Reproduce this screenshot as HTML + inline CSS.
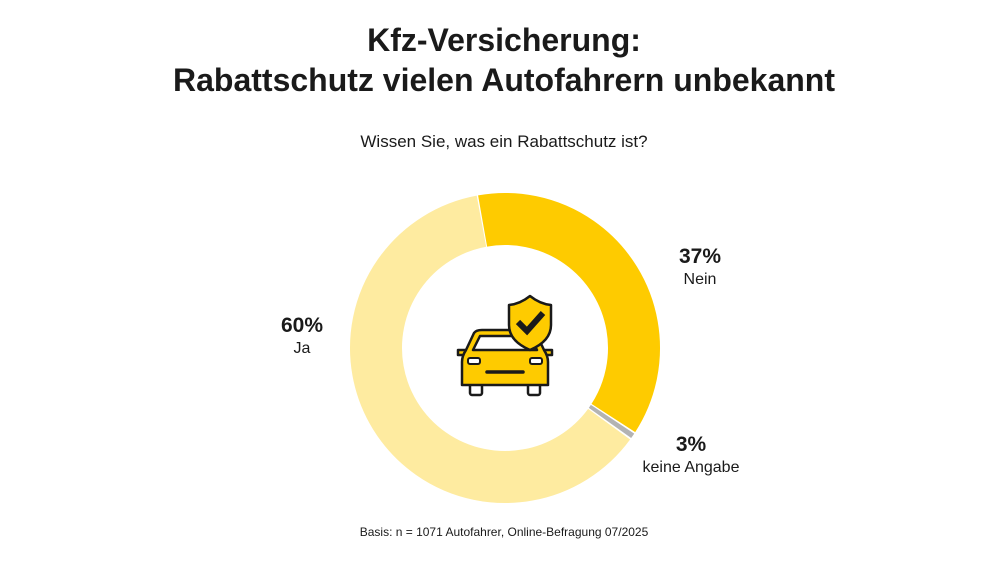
<!DOCTYPE html>
<html><head><meta charset="utf-8"><style>
body{margin:0;width:1008px;height:567px;background:#fff;font-family:"Liberation Sans",sans-serif;color:#1a1a1a;position:relative;overflow:hidden}
.t{position:absolute;left:0;width:1008px;text-align:center;font-weight:bold;font-size:32px;line-height:40px}
.l{position:absolute;font-size:16px;line-height:20px}
.p{font-weight:bold;font-size:21px;line-height:26px}
</style></head><body>
<div class="t" style="top:20px">Kfz-Versicherung:<br>Rabattschutz vielen Autofahrern unbekannt</div>
<div class="l" style="top:132px;left:0;width:1008px;text-align:center;font-size:17px">Wissen Sie, was ein Rabattschutz ist?</div>
<svg width="1008" height="567" style="position:absolute;left:0;top:0">
<g transform="rotate(-100 505 348)" fill="none" stroke-width="52">
<circle cx="505" cy="348" r="129" stroke="#fecb00" stroke-dasharray="299 511.5"/>
<circle cx="505" cy="348" r="129" stroke="#b3b3b3" stroke-dasharray="0 300.5 4.5 505.5"/>
<circle cx="505" cy="348" r="129" stroke="#feeba0" stroke-dasharray="0 306.5 502.5 1.5"/>
</g>
<g stroke="#1a1a1a" stroke-width="2.5" stroke-linejoin="round" stroke-linecap="round">
<rect x="470" y="378" width="12" height="17" rx="2" fill="#fff"/>
<rect x="528" y="378" width="12" height="17" rx="2" fill="#fff"/>
<path d="M458 350 h10 v5 h-10 z M542 350 h10 v5 h-10 z" fill="#fecb00"/>
<path d="M474 333 Q476 330 482 330 H528 Q534 330 536 333 L544 350 Q548 356 548 362 V385 H462 V362 Q462 356 466 350 Z" fill="#fecb00"/>
<path d="M480 336 H530 L537 350 H473 Z" fill="#fff"/>
<rect x="468" y="358" width="12" height="6" rx="2" fill="#fff" stroke-width="2"/>
<rect x="530" y="358" width="12" height="6" rx="2" fill="#fff" stroke-width="2"/>
<line x1="487" y1="372" x2="523" y2="372" stroke-width="3.5"/>
<path d="M530 296 Q540 304 551 305 V325 Q551 341 530 350 Q509 341 509 325 V305 Q520 304 530 296 Z" fill="#fecb00"/>
<path d="M518 322 L527 331 L543 313" fill="none" stroke-width="6" stroke-linecap="butt" stroke-linejoin="miter"/>
</g>
</svg>
<div class="l" style="left:650px;top:244px;width:100px;text-align:center"><div class="p">37%</div>Nein</div>
<div class="l" style="left:252px;top:313px;width:100px;text-align:center"><div class="p">60%</div>Ja</div>
<div class="l" style="left:620px;top:432px;width:150px;text-align:center;left:616px"><div class="p">3%</div>keine Angabe</div>
<div class="l" style="top:522px;left:0;width:1008px;text-align:center;font-size:12px">Basis: n = 1071 Autofahrer, Online-Befragung 07/2025</div>
</body></html>
